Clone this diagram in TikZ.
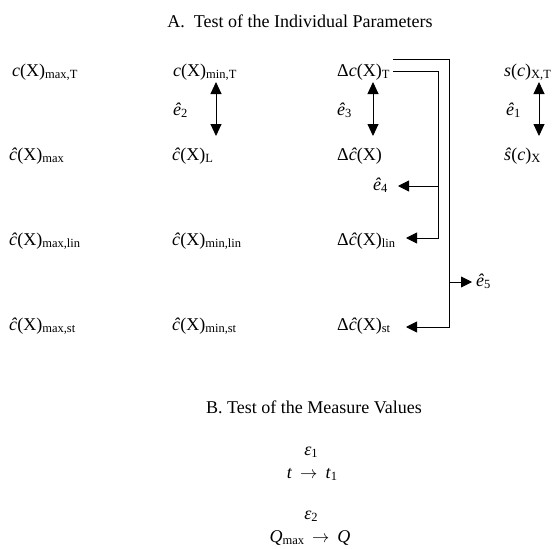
\documentclass[tikz,border=0pt]{standalone}
\usepackage{fontspec}
\setmainfont{Liberation Serif}
\usetikzlibrary{arrows.meta}
\newcommand\sbs[1]{\raisebox{-2pt}{\fontsize{12.5}{13}\selectfont #1}}
\begin{document}
\begin{tikzpicture}[x=1pt,y=-1pt,
  lbl/.style={inner sep=0pt, anchor=base west, font=\fontsize{18}{20}\selectfont},
  ttl/.style={inner sep=0pt, anchor=base, font=\fontsize{18}{20}\selectfont},
  ln/.style={line width=0.9pt},
  arr/.style={ln, -{Triangle[length=11pt,width=11pt]}},
  dbl/.style={ln, {Triangle[length=12pt,width=11pt]}-{Triangle[length=12pt,width=11pt]}}]
\useasboundingbox (0,0) rectangle (555,549);
% titles
\node[ttl] (tA) at (300,27) {A.\ \ Test of the Individual Parameters};
\node[ttl] (tB) at (314,413) {B. Test of the Measure Values};
% column 1
\node[lbl] (a1) at (12,76)  {\textit{c}(X)\sbs{max,T}};
\node[lbl] (a2) at (9,160)  {\textit{ĉ}(X)\sbs{max}};
\node[lbl] (a3) at (9,245)  {\textit{ĉ}(X)\sbs{max,lin}};
\node[lbl] (a4) at (9,330)  {\textit{ĉ}(X)\sbs{max,st}};
% column 2
\node[lbl] (b1) at (173,76)  {\textit{c}(X)\sbs{min,T}};
\node[lbl] (b2) at (172,160) {\textit{ĉ}(X)\sbs{L}};
\node[lbl] (b3) at (172,245) {\textit{ĉ}(X)\sbs{min,lin}};
\node[lbl] (b4) at (172,330) {\textit{ĉ}(X)\sbs{min,st}};
% column 3
\node[lbl] (c1) at (337,76)  {Δ\textit{c}(X)\sbs{T}};
\node[lbl] (c2) at (337,160) {Δ\textit{ĉ}(X)};
\node[lbl] (c3) at (337,245) {Δ\textit{ĉ}(X)\sbs{lin}};
\node[lbl] (c4) at (337,330) {Δ\textit{ĉ}(X)\sbs{st}};
% column 4
\node[lbl] (d1) at (504,76)  {\textit{s}(\textit{c})\sbs{X,T}};
\node[lbl] (d2) at (504,160) {\textit{ŝ}(\textit{c})\sbs{X}};
% error labels
\node[lbl] (e2) at (173,115) {\textit{ê}\sbs{2}};
\node[lbl] (e3) at (337,115) {\textit{ê}\sbs{3}};
\node[lbl] (e1) at (506,115) {\textit{ê}\sbs{1}};
\node[lbl] (e4) at (373,190) {\textit{ê}\sbs{4}};
\node[lbl] (e5) at (476,286) {\textit{ê}\sbs{5}};
% vertical double arrows
\coordinate (v2t) at (216,82);  \coordinate (v2b) at (216,136);
\coordinate (v3t) at (373,82);  \coordinate (v3b) at (373,136);
\coordinate (v1t) at (539,82);  \coordinate (v1b) at (539,136);
\draw[dbl] (v2t) -- (v2b);
\draw[dbl] (v3t) -- (v3b);
\draw[dbl] (v1t) -- (v1b);
% bracket connectors from Delta c(X)_T
\coordinate (u0) at (393,59);  \coordinate (u1) at (449,59);
\coordinate (u2) at (449,327); \coordinate (ust) at (406,327);
\coordinate (l0) at (393,71);  \coordinate (l1) at (438,71);
\coordinate (l2) at (438,238); \coordinate (llin) at (406,238);
\coordinate (k4) at (438,186); \coordinate (k4t) at (398,186);
\coordinate (k5) at (449,282); \coordinate (k5t) at (472,282);
\draw[arr] (u0) -- (u1) -- (u2) -- (ust);
\draw[arr] (l0) -- (l1) -- (l2) -- (llin);
\draw[arr] (k4) -- (k4t);
\draw[arr] (k5) -- (k5t);
% measure values
\node[ttl] (m1) at (311,455) {\textit{ε}\sbs{1}};
\node[ttl] (m2) at (312,478) {\textit{t}\hspace{8pt}$\rightarrow$\hspace{8pt}\textit{t}\sbs{1}};
\node[ttl] (m3) at (311,519) {\textit{ε}\sbs{2}};
\node[ttl] (m4) at (310,542) {\textit{Q}\sbs{max}\hspace{8pt}$\rightarrow$\hspace{8pt}\textit{Q}};
\end{tikzpicture}
\end{document}
